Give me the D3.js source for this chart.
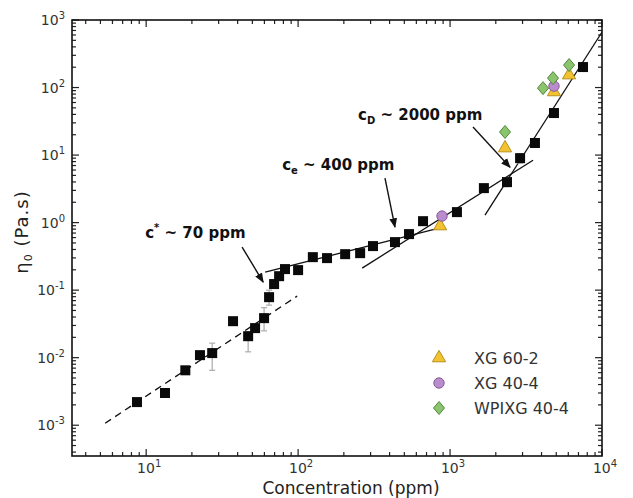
<!DOCTYPE html>
<html><head><meta charset="utf-8">
<script src="https://cdn.jsdelivr.net/npm/d3@7"></script>
<style>body{margin:0;background:#fff}svg{display:block}</style>
</head><body><svg id="c" width="633" height="498"></svg>
<script>
// ---- data ----
const sqConc = [8.7, 13.3, 18.1, 22.6, 27.2, 37.3, 46.9, 52.1, 59.7, 64.4, 69.5, 75, 82, 100, 125, 155, 204, 256, 311, 434, 537, 664, 1110, 1670, 2370, 2890, 3620, 4830, 7500];
const sqVisc = [0.0022, 0.003, 0.0065, 0.0109, 0.0117, 0.0347, 0.0208, 0.0274, 0.0385, 0.0787, 0.123, 0.161, 0.205, 0.198, 0.308, 0.298, 0.341, 0.353, 0.449, 0.514, 0.676, 1.05, 1.43, 3.24, 3.98, 9.0, 15.1, 41.9, 201];
const errConc = [27.2, 46.9, 59.7, 64.4, 2370, 2890];
const errLo = [0.0065, 0.0122, 0.025, 0.06, 3.4, 7.6];
const errHi = [0.0164, 0.024, 0.055, 0.1, 4.6, 10.5];
const xg602Conc = [860, 2300, 4830, 6070];
const xg602Visc = [0.89, 12.7, 86, 153];
const xg404Conc = [885, 4830];
const xg404Visc = [1.25, 105];
const wpiConc = [2300, 4090, 4760, 6070];
const wpiVisc = [22, 98, 138, 215];
const fitDilute = [[5.37, 1.07e-3], [98.5, 0.0815]];
const fitSemi = [[60.7, 0.185], [899, 0.857]];
const fitEnt = [[264, 0.212], [3516, 8.4]];
const fitConc = [[1698, 1.29], [10160, 700]];
const xTickExp = [1, 2, 3, 4];
const yTickExp = [-3, -2, -1, 0, 1, 2, 3];
const legendLabels = ["XG 60-2", "XG 40-4", "WPIXG 40-4"];
const annotations = [
  {main: "c", mod: "*", modType: "sup", rest: " ~ 70 ppm", at: [9.85, 0.59], from: [42.8, 0.434], to: [58.9, 0.1315]},
  {main: "c", mod: "e", modType: "sub", rest: " ~ 400 ppm", at: [78.5, 6.0], from: [373, 4.56], to: [434, 0.857]},
  {main: "c", mod: "D", modType: "sub", rest: " ~ 2000 ppm", at: [248, 33], from: [1416, 26], to: [2483, 6.6]}
];

// ---- layout ----
const L = 72, R = 602, T = 20, B = 456;
const svg = d3.select("#c");
const x = d3.scaleLog().domain([3.25, 1e4]).range([L, R]);
const y = d3.scaleLog().domain([3.5e-4, 1e3]).range([B, T]);
const FONT = "DejaVu Sans, Verdana, sans-serif";

const defs = svg.append("defs");
defs.append("marker").attr("id", "ah").attr("viewBox", "0 0 10 10").attr("refX", 9).attr("refY", 5)
  .attr("markerWidth", 7).attr("markerHeight", 7).attr("orient", "auto-start-reverse")
  .append("path").attr("d", "M0,1 L10,5 L0,9 z").attr("fill", "#111");
defs.append("clipPath").attr("id", "clip").append("rect").attr("x", L).attr("y", T).attr("width", R - L).attr("height", B - T);

// ---- ticks (inward, all four sides) ----
const gT = svg.append("g").attr("stroke", "#222").attr("stroke-width", 1.2);
const xTicks = [], yTicks = [];
const [x0, x1] = x.domain(), [y0, y1] = y.domain();
for (let e = 0; e <= 4; e++) for (let m = 1; m <= 9; m++) { const v = m * Math.pow(10, e); if (v >= x0 && v <= x1) xTicks.push({v, major: m === 1}); }
for (let e = -4; e <= 3; e++) for (let m = 1; m <= 9; m++) { const v = m * Math.pow(10, e); if (v >= y0 && v <= y1) yTicks.push({v, major: m === 1}); }
xTicks.forEach(t => {
  const len = t.major ? 7 : 4, px = x(t.v);
  gT.append("line").attr("x1", px).attr("x2", px).attr("y1", B).attr("y2", B - len);
  gT.append("line").attr("x1", px).attr("x2", px).attr("y1", T).attr("y2", T + len);
});
yTicks.forEach(t => {
  const len = t.major ? 7 : 4, py = y(t.v);
  gT.append("line").attr("x1", L).attr("x2", L + len).attr("y1", py).attr("y2", py);
  gT.append("line").attr("x1", R).attr("x2", R - len).attr("y1", py).attr("y2", py);
});
svg.append("rect").attr("x", L).attr("y", T).attr("width", R - L).attr("height", B - T)
  .attr("fill", "none").attr("stroke", "#111").attr("stroke-width", 1.6);

// tick labels
xTickExp.forEach(e => {
  const t = svg.append("text").attr("x", x(Math.pow(10, e)) + 3).attr("y", B + 17).attr("text-anchor", "middle")
    .attr("font-family", FONT).attr("font-size", 14).attr("fill", "#333");
  t.append("tspan").text("10");
  t.append("tspan").attr("dy", -6).attr("font-size", 10).text(e);
});
yTickExp.forEach(e => {
  const t = svg.append("text").attr("x", L - 7).attr("y", y(Math.pow(10, e)) + 5).attr("text-anchor", "end")
    .attr("font-family", FONT).attr("font-size", 14).attr("fill", "#333");
  t.append("tspan").text("10");
  t.append("tspan").attr("dy", -6).attr("font-size", 10).text(e);
});

// axis titles
svg.append("text").attr("x", 351).attr("y", 494).attr("text-anchor", "middle")
  .attr("font-family", FONT).attr("font-size", 17).attr("fill", "#222").text("Concentration (ppm)");
const yt = svg.append("text").attr("transform", `translate(28,232) rotate(-90)`).attr("text-anchor", "middle")
  .attr("font-family", FONT).attr("font-size", 18).attr("letter-spacing", 1).attr("fill", "#222");
yt.append("tspan").text("η");
yt.append("tspan").attr("font-size", 11).attr("dy", 4).text("0");
yt.append("tspan").attr("dy", -4).text(" (Pa.s)");

// ---- fit lines ----
const lineGen = d3.line().x(d => x(d[0])).y(d => y(d[1]));
const gF = svg.append("g").attr("clip-path", "url(#clip)").attr("fill", "none").attr("stroke", "#111").attr("stroke-width", 1.3);
gF.append("path").attr("d", lineGen(fitDilute)).attr("stroke-dasharray", "7,5");
[fitSemi, fitEnt, fitConc].forEach(f => gF.append("path").attr("d", lineGen(f)));

// ---- error bars ----
const gE = svg.append("g").attr("stroke", "#aaa").attr("stroke-width", 1.2);
errConc.forEach((c, i) => {
  const px = x(c);
  gE.append("line").attr("x1", px).attr("x2", px).attr("y1", y(errLo[i])).attr("y2", y(errHi[i]));
  [errLo[i], errHi[i]].forEach(v => gE.append("line").attr("x1", px - 3).attr("x2", px + 3).attr("y1", y(v)).attr("y2", y(v)));
});

// ---- black squares ----
const S = 10;
svg.append("g").selectAll("rect").data(d3.zip(sqConc, sqVisc)).join("rect")
  .attr("x", d => x(d[0]) - S / 2).attr("y", d => y(d[1]) - S / 2).attr("width", S).attr("height", S).attr("fill", "#0a0a0a");

// ---- coloured series ----
const triPath = d3.symbol(d3.symbolTriangle, 75)();
const circPath = d3.symbol(d3.symbolCircle, 85)();
const diaPath = "M0,-6.5 L5.5,0 L0,6.5 L-5.5,0 Z";
const styles = [
  {path: triPath, fill: "#f2c230", stroke: "#b8901a"},
  {path: circPath, fill: "#b98ccc", stroke: "#8a5a9e"},
  {path: diaPath, fill: "#8cc46e", stroke: "#4f8a3c"}
];
[[xg602Conc, xg602Visc], [xg404Conc, xg404Visc], [wpiConc, wpiVisc]].forEach((s, k) => {
  svg.append("g").selectAll("path").data(d3.zip(s[0], s[1])).join("path")
    .attr("d", styles[k].path).attr("transform", d => `translate(${x(d[0])},${y(d[1])})`)
    .attr("fill", styles[k].fill).attr("stroke", styles[k].stroke).attr("stroke-width", 1);
});

// ---- annotations ----
annotations.forEach(a => {
  svg.append("line").attr("x1", x(a.from[0])).attr("y1", y(a.from[1])).attr("x2", x(a.to[0])).attr("y2", y(a.to[1]))
    .attr("stroke", "#111").attr("stroke-width", 1.4).attr("marker-end", "url(#ah)");
  const t = svg.append("text").attr("x", x(a.at[0])).attr("y", y(a.at[1])).attr("font-family", FONT)
    .attr("font-weight", "bold").attr("font-size", 15).attr("fill", "#111");
  t.append("tspan").text(a.main);
  t.append("tspan").attr("font-size", 10).attr("dy", a.modType === "sup" ? -7 : 4).text(a.mod);
  t.append("tspan").attr("dy", a.modType === "sup" ? 7 : -4).text(a.rest);
});

// ---- legend ----
const legY = [358, 383, 408];
legendLabels.forEach((lab, k) => {
  svg.append("path").attr("d", styles[k].path).attr("transform", `translate(439,${legY[k]})`)
    .attr("fill", styles[k].fill).attr("stroke", styles[k].stroke).attr("stroke-width", 1);
  svg.append("text").attr("x", 474).attr("y", legY[k] + 6).attr("font-family", FONT).attr("font-size", 16)
    .attr("fill", "#333").text(lab);
});
</script></body></html>
